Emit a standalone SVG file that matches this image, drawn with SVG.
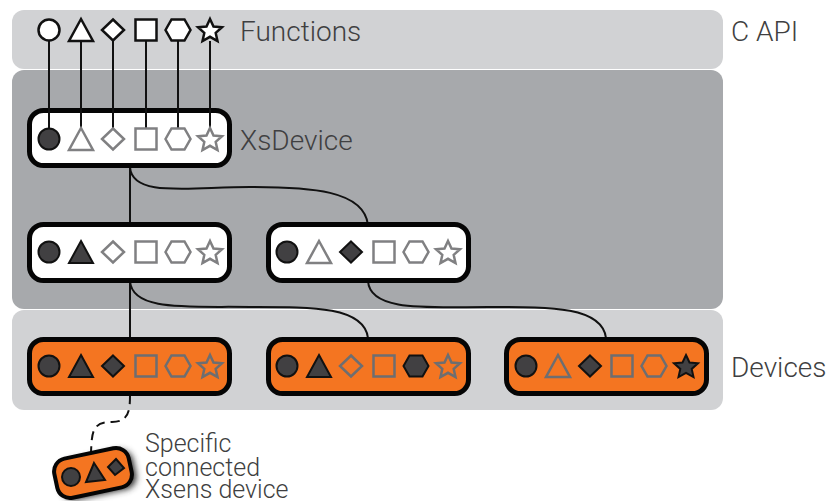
<svg xmlns="http://www.w3.org/2000/svg" width="830" height="501" viewBox="0 0 830 501">
<style>
text{font-family:Roboto,"Liberation Sans",Arial,sans-serif;font-weight:300;font-size:28px;fill:#3f3f41}
.small{font-size:25px}
.light{fill:#d1d2d4}.dark{fill:#a7a9ac}
.box{stroke:#050505;stroke-width:5}
.white{fill:#fff}.orange{fill:#f47521}
.on{fill:#414042;stroke:#111;stroke-width:2}
.off{fill:none;stroke:#808082;stroke-width:2.5}
.orange-off{stroke:#6d6e71}
.fn{fill:#fff;stroke:#111;stroke-width:2.5}
.wire{fill:none;stroke:#111;stroke-width:2}
.dash{stroke-dasharray:9 6}
</style>
<defs>
<circle id="c" r="10.5"/>
<polygon id="t" points="0,-11 12,11 -12,11"/>
<polygon id="d" points="0,-10.5 11,0 0,10.5 -11,0"/>
<rect id="s" x="-10.5" y="-10.5" width="21" height="21"/>
<polygon id="h" points="-12.5,0 -6.500,-10.5 6.500,-10.5 12.5,0 6.500,10.5 -6.500,10.5"/>
<polygon id="r" points="0,-12 3.5,-4.5 12,-3.7 5.700,1.900 7.500,10 0,5.800 -7.500,10 -5.700,1.900 -12,-3.7 -3.5,-4.500"/>
<filter id="blur" x="-30%" y="-30%" width="160%" height="160%"><feGaussianBlur stdDeviation="3"/></filter>
</defs>

<g id="bands">
<rect class="light" x="12" y="10" width="711" height="59" rx="12"/>
<rect class="light" x="12" y="310" width="711" height="100" rx="12"/>
<rect class="dark" x="12" y="70" width="711" height="239" rx="12"/>
</g>

<g id="connectors">
<path class="wire" d="M49 41V128M81 41V128M113 41V128M146 41V128M178 41V128M210 41V128"/>
<path class="wire" d="M130 167V338M130 167C132 198 190 187 250 187C310 187 364 190 368 225"/>
<path class="wire" d="M130 281C132 312 190 306 250 307C310 307 364 306 368 338"/>
<path class="wire" d="M368 281C370 312 428 307 488 307C548 307 602 306 606 338"/>
<path class="wire dash" d="M130 395C130 410 129 422 112 422C92 422 92 432 91 452"/>
</g>

<g id="functions">
<use href="#c" class="fn" x="49" y="30"/>
<use href="#t" class="fn" x="81" y="30"/>
<use href="#d" class="fn" x="113" y="30"/>
<use href="#s" class="fn" x="146" y="30"/>
<use href="#h" class="fn" x="178" y="30"/>
<use href="#r" class="fn" x="210" y="31"/>
</g>

<g id="xsdevice">
<rect class="box white" x="29.500" y="110.500" width="200" height="55" rx="14"/>
<path class="wire" d="M49 108V128M81 108V128M113 108V128M146 108V128M178 108V128M210 108V128"/>
<use href="#c" class="on" x="49" y="139"/>
<use href="#t" class="off" x="81" y="139"/>
<use href="#d" class="off" x="113" y="139"/>
<use href="#s" class="off" x="146" y="139"/>
<use href="#h" class="off" x="178" y="139"/>
<use href="#r" class="off" x="210" y="140"/>
</g>

<g id="class-a">
<rect class="box white" x="29.500" y="224.500" width="200" height="56" rx="14"/>
<use href="#c" class="on" x="49" y="252"/>
<use href="#t" class="on" x="81" y="252"/>
<use href="#d" class="off" x="113" y="252"/>
<use href="#s" class="off" x="146" y="252"/>
<use href="#h" class="off" x="178" y="252"/>
<use href="#r" class="off" x="210" y="253"/>
</g>

<g id="class-b">
<rect class="box white" x="268.500" y="224.500" width="200" height="56" rx="14"/>
<use href="#c" class="on" x="287" y="252"/>
<use href="#t" class="off" x="319" y="252"/>
<use href="#d" class="on" x="351" y="252"/>
<use href="#s" class="off" x="384" y="252"/>
<use href="#h" class="off" x="416" y="252"/>
<use href="#r" class="off" x="448" y="253"/>
</g>

<g id="device-a">
<rect class="box orange" x="29.500" y="339.500" width="200" height="54" rx="14"/>
<use href="#c" class="on" x="49" y="366"/>
<use href="#t" class="on" x="81" y="366"/>
<use href="#d" class="on" x="113" y="366"/>
<use href="#s" class="off orange-off" x="146" y="366"/>
<use href="#h" class="off orange-off" x="178" y="366"/>
<use href="#r" class="off orange-off" x="210" y="367"/>
</g>

<g id="device-b">
<rect class="box orange" x="268.500" y="339.500" width="200" height="54" rx="14"/>
<use href="#c" class="on" x="287" y="366"/>
<use href="#t" class="on" x="319" y="366"/>
<use href="#d" class="off orange-off" x="351" y="366"/>
<use href="#s" class="off orange-off" x="384" y="366"/>
<use href="#h" class="on" x="416" y="366"/>
<use href="#r" class="off orange-off" x="448" y="367"/>
</g>

<g id="device-c">
<rect class="box orange" x="506.500" y="339.500" width="200" height="54" rx="14"/>
<use href="#c" class="on" x="526" y="366"/>
<use href="#t" class="off orange-off" x="558" y="366"/>
<use href="#d" class="on" x="590" y="366"/>
<use href="#s" class="off orange-off" x="622" y="366"/>
<use href="#h" class="off orange-off" x="654" y="366"/>
<use href="#r" class="on" x="686" y="367"/>
</g>

<g id="xsens-device">
<rect x="55" y="453" width="76" height="40" rx="13" transform="rotate(-12 93 473) translate(4 3)" fill="#333" filter="url(#blur)"/>
<rect class="box orange" x="55" y="453" width="76" height="40" rx="13" transform="rotate(-12 93 473)" style="stroke-width:4"/>
<circle class="on" cx="71" cy="477" r="9"/>
<polygon class="on" points="94,463 105,480 86,482"/>
<polygon class="on" points="116,459 124,468 115,475 108,467"/>
</g>

<g id="labels">
<text x="240" y="41">Functions</text>
<text x="240" y="150">XsDevice</text>
<text x="731" y="41">C API</text>
<text x="731" y="377">Devices</text>
<text class="small" x="145" y="452">Specific<tspan x="145" dy="23.500">connected</tspan><tspan x="145" dy="22">Xsens device</tspan></text>
</g>
</svg>
